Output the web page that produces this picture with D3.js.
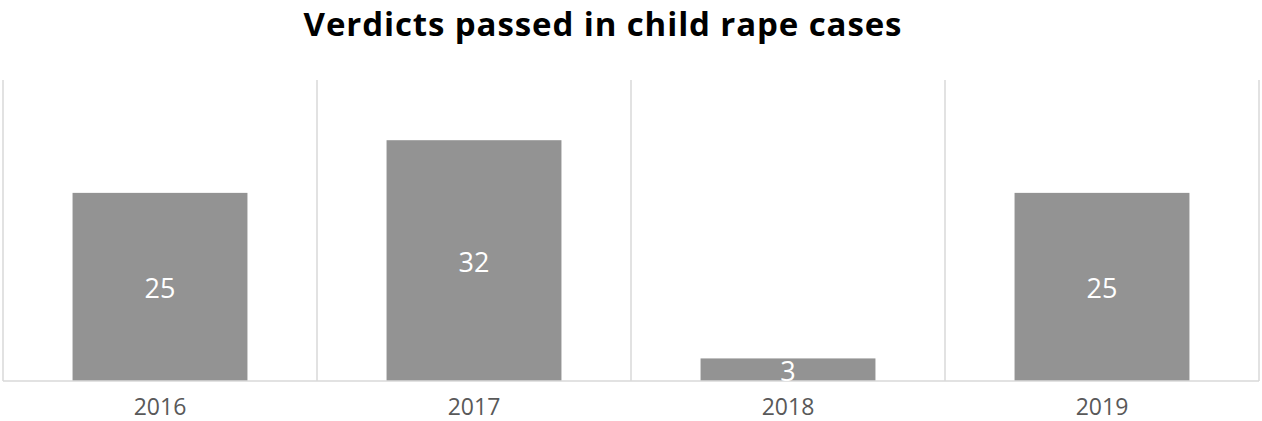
<!DOCTYPE html>
<html><head><meta charset="utf-8">
<script src="https://cdn.jsdelivr.net/npm/d3@7"></script>
<style>body{margin:0;background:#fff}svg{display:block}</style>
</head><body>
<svg id="c" width="1262" height="421"></svg>
<script>
const categories = ["2016", "2017", "2018", "2019"];
const values = [25, 32, 3, 25];
const yDomainMax = 40;
const title = "Verdicts passed in child rape cases";

(function () {
const svg = d3.select("#c");
const mLeft = 3, mRight = 1259, mTop = 80, mBottom = 381;
const x = d3.scaleBand().domain(categories).range([mLeft, mRight]).paddingInner(0.443).paddingOuter(0.2215);
const y = d3.scaleLinear().domain([0, yDomainMax]).range([mBottom, mTop]);

const step = x.step();
const seps = d3.range(categories.length + 1).map(i => mLeft + i * step);
svg.selectAll("line.sep").data(seps).enter().append("line")
  .attr("x1", d => d).attr("x2", d => d).attr("y1", mTop).attr("y2", mBottom)
  .attr("stroke", "#d9d9d9").attr("stroke-width", 1.5);

svg.selectAll("rect.bar").data(values).enter().append("rect")
  .attr("x", (d, i) => x(categories[i])).attr("width", x.bandwidth())
  .attr("y", d => y(d)).attr("height", d => y(0) - y(d))
  .attr("fill", "#939393");

svg.append("line").attr("x1", mLeft).attr("x2", mRight).attr("y1", mBottom).attr("y2", mBottom)
  .attr("stroke", "#d9d9d9").attr("stroke-width", 1.5);

svg.selectAll("text.val").data(values).enter().append("text")
  .attr("x", (d, i) => x(categories[i]) + x.bandwidth() / 2)
  .attr("y", d => (y(d) + y(0)) / 2 + 2)
  .attr("dy", "0.35em").attr("text-anchor", "middle")
  .attr("fill", "#fff").attr("font-family", "'Open Sans', sans-serif").attr("font-size", 27)
  .text(d => d);

const xAxis = d3.axisBottom(x).tickSize(0).tickPadding(18);
const ax = svg.append("g").attr("transform", `translate(0,${mBottom})`).call(xAxis);
ax.select(".domain").remove();
ax.selectAll("text").attr("fill", "#595959").attr("font-family", "'Open Sans', sans-serif").attr("font-size", 23);

svg.append("text").attr("x", 603).attr("y", 36).attr("text-anchor", "middle")
  .attr("font-family", "'Open Sans', sans-serif").attr("font-weight", "bold").attr("font-size", 33)
  .attr("letter-spacing", "0.9px")
  .attr("fill", "#000").text(title);
})();
</script>
</body></html>
